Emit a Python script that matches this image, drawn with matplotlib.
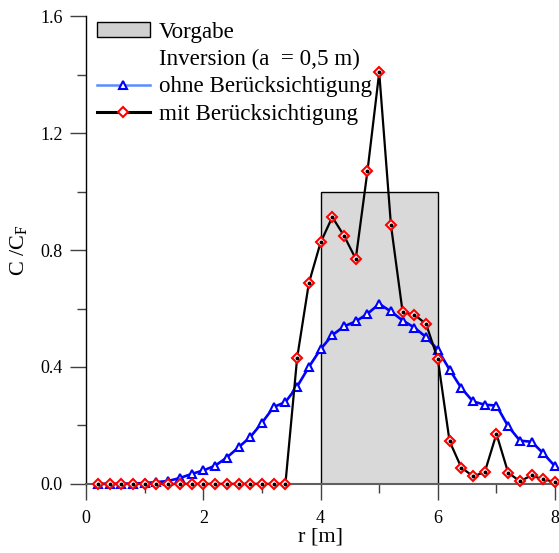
import numpy as np
import matplotlib
matplotlib.use("Agg")
import matplotlib.pyplot as plt
from matplotlib.patches import Patch
from matplotlib.lines import Line2D

plt.rcParams["font.family"] = ["Liberation Serif", "DejaVu Serif"]
plt.rcParams["mathtext.fontset"] = "custom"
plt.rcParams["mathtext.rm"] = "Liberation Serif"
plt.rcParams["mathtext.it"] = "Liberation Serif"

# radial positions [m]
r = [round(0.2 * i, 1) for i in range(1, 41)]

# inversion without consideration
ohne = [0.0, 0.0, 0.0, 0.001, 0.003, 0.006, 0.01, 0.02, 0.034, 0.046,
        0.062, 0.09, 0.125, 0.16, 0.209, 0.263, 0.28, 0.333, 0.40, 0.461,
        0.509, 0.539, 0.556, 0.582, 0.616, 0.59, 0.559, 0.535, 0.502, 0.459,
        0.391, 0.328, 0.282, 0.271, 0.268, 0.197, 0.148, 0.144, 0.104, 0.06]

# inversion with consideration
mit = [0.0, 0.0, 0.0, 0.0, 0.0, 0.0, 0.0, 0.0, 0.0, 0.0,
       0.0, 0.0, 0.0, 0.0, 0.0, 0.0, 0.0, 0.431, 0.687, 0.826,
       0.913, 0.849, 0.770, 1.071, 1.408, 0.886, 0.587, 0.579, 0.547, 0.427,
       0.146, 0.056, 0.026, 0.04, 0.171, 0.038, 0.009, 0.029, 0.015, 0.007]

# prescribed distribution
vorgabe_start, vorgabe_end, vorgabe_height = 4.0, 6.0, 1.0

fig = plt.figure(figsize=(5.59, 5.53), dpi=100)
ax = fig.add_axes([0.154, 0.125, 0.839, 0.8455])

ax.bar(vorgabe_start, vorgabe_height, width=vorgabe_end - vorgabe_start,
       align="edge", color="#d9d9d9", edgecolor="black", linewidth=1.0, zorder=1)

ax.plot(r, ohne, color="#0000ff", linewidth=1.9, marker="^", markersize=6,
        markerfacecolor="white", markeredgecolor="#0000ff", markeredgewidth=1.5,
        zorder=3, clip_on=False)

ax.plot(r, mit, color="black", linewidth=1.6, zorder=4, clip_on=False)
ax.plot(r, mit, linestyle="none", marker="D", markersize=5.3,
        markerfacecolor="white", markeredgecolor="red", markeredgewidth=1.5,
        zorder=5, clip_on=False)
ax.plot(r, mit, linestyle="none", marker="o", markersize=1.8,
        color="black", zorder=6, clip_on=False)

ax.set_xlim(0, 8)
ax.set_ylim(0, 1.6)
ax.set_xticks([0, 2, 4, 6, 8])
ax.set_xticks([1, 3, 5, 7], minor=True)
ax.set_yticks([0.0, 0.4, 0.8, 1.2, 1.6])
ax.set_yticks([0.2, 0.6, 1.0, 1.4], minor=True)
ax.set_yticklabels(["0.0", "0.4", "0.8", "1.2", "1.6"])

for side in ("top", "right"):
    ax.spines[side].set_visible(False)
ax.spines["left"].set_color("black")
ax.spines["bottom"].set_color("#606060")
ax.spines["bottom"].set_linewidth(1.5)
ax.spines["left"].set_linewidth(1.0)
ax.tick_params(which="major", direction="out", length=11.5, width=1.0,
               color="#404040", labelsize=13)
ax.tick_params(which="minor", direction="out", length=6.5, width=1.0, color="#404040")
ax.tick_params(axis="x", which="major", pad=7)
ax.tick_params(axis="y", which="major", pad=5.5)

ax.set_xlabel("r [m]", fontsize=16, labelpad=1)
ax.set_ylabel(r"C /C$_\mathrm{F}$", fontsize=16, labelpad=8)

handles = [
    Patch(facecolor="#d0d0d0", edgecolor="black", linewidth=1.0),
    Line2D([], [], linestyle="none"),
    Line2D([], [], color="#5b8cff", linewidth=1.8, marker="^", markersize=6,
           markerfacecolor="white", markeredgecolor="#0000ff", markeredgewidth=1.5),
    Line2D([], [], color="black", linewidth=2.2, marker="D", markersize=5,
           markerfacecolor="white", markeredgecolor="red", markeredgewidth=1.5),
]
labels = ["Vorgabe", "Inversion (a  = 0,5 m)", "ohne Berücksichtigung",
          "mit Berücksichtigung"]
ax.legend(handles, labels, loc="upper left", bbox_to_anchor=(-0.0064, 1.018),
          frameon=False, fontsize=16.6, handlelength=2.3, handleheight=0.57,
          handletextpad=0.4, labelspacing=0.27, borderaxespad=0.2)

fig.savefig("out.png", dpi=100)
